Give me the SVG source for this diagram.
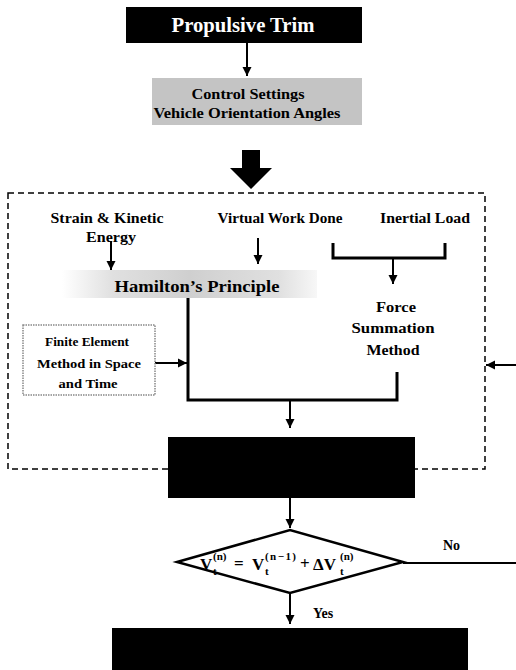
<svg xmlns="http://www.w3.org/2000/svg" width="516" height="670" viewBox="0 0 516 670">
<style>
text{font-family:"Liberation Serif","Times New Roman",serif;font-weight:bold;fill:#000}
.w{fill:#fff}
.ln{stroke:#000;stroke-width:2;fill:none}
.thick{stroke:#000;stroke-width:3;fill:none}
.sup{font-size:11px}
.eq{font-size:17px}
</style>
<defs>
<marker id="ah" viewBox="0 0 10 10" refX="10" refY="5" markerWidth="9" markerHeight="10" markerUnits="userSpaceOnUse" orient="auto">
<path d="M0,0 L10,5 L0,10 Z" fill="#000"/>
</marker>
<linearGradient id="hg" x1="0" x2="1" y1="0" y2="0">
<stop offset="0" stop-color="#d8d8d8" stop-opacity="0"/>
<stop offset="0.2" stop-color="#d8d8d8" stop-opacity="0.8"/>
<stop offset="0.5" stop-color="#cfcfcf"/>
<stop offset="0.85" stop-color="#d8d8d8" stop-opacity="0.8"/>
<stop offset="1" stop-color="#d8d8d8" stop-opacity="0.2"/>
</linearGradient>
</defs>
<rect width="516" height="670" fill="#fff"/>

<g id="boundary">
<rect x="8" y="193" width="477" height="276" fill="none" stroke="#000" stroke-width="1.5" stroke-dasharray="6 4"/>
</g>

<g id="connectors">
<line class="ln" x1="247" y1="43" x2="247" y2="76" marker-end="url(#ah)"/>
<polygon points="242,150 260,150 260,168 272,168 251,189 230,168 242,168" fill="#000"/>
<line class="ln" x1="111" y1="241" x2="111" y2="270" marker-end="url(#ah)"/>
<line class="ln" x1="258" y1="238" x2="258" y2="264" marker-end="url(#ah)"/>
<polyline class="thick" points="333,243 333,258 445,258 445,243"/>
<line class="ln" x1="393" y1="258" x2="393" y2="284" marker-end="url(#ah)"/>
<polyline class="thick" points="188,298 188,400 397,400 397,372"/>
<line class="ln" x1="155" y1="363" x2="187" y2="363" marker-end="url(#ah)"/>
<line class="ln" x1="290" y1="400" x2="290" y2="428" marker-end="url(#ah)"/>
<line class="ln" x1="516" y1="365" x2="486" y2="365" marker-end="url(#ah)"/>
<line class="ln" x1="290" y1="498" x2="290" y2="528" marker-end="url(#ah)"/>
<line class="ln" x1="403" y1="563" x2="516" y2="563"/>
<line class="ln" x1="290" y1="593" x2="290" y2="624" marker-end="url(#ah)"/>
</g>

<g id="propulsive-trim">
<rect x="126" y="7" width="236" height="36" fill="#000"/>
<text class="w" x="243" y="32" font-size="20" text-anchor="middle" textLength="143" lengthAdjust="spacingAndGlyphs">Propulsive Trim</text>
</g>

<g id="control-settings">
<rect x="152" y="78" width="210" height="47" fill="#c4c4c4"/>
<text x="248" y="99" font-size="14" text-anchor="middle" fill="#2a2a2a" textLength="113" lengthAdjust="spacingAndGlyphs">Control Settings</text>
<text x="247" y="118" font-size="14" text-anchor="middle" fill="#2a2a2a" textLength="187" lengthAdjust="spacingAndGlyphs">Vehicle Orientation Angles</text>
</g>

<g id="strain-energy">
<text x="107" y="223" font-size="14" text-anchor="middle" textLength="113" lengthAdjust="spacingAndGlyphs">Strain &amp; Kinetic</text>
<text x="111" y="242" font-size="14" text-anchor="middle" textLength="50" lengthAdjust="spacingAndGlyphs">Energy</text>
</g>

<g id="virtual-work">
<text x="280" y="223" font-size="14" text-anchor="middle" textLength="125" lengthAdjust="spacingAndGlyphs">Virtual Work Done</text>
</g>

<g id="inertial-load">
<text x="425" y="223" font-size="14" text-anchor="middle" textLength="90" lengthAdjust="spacingAndGlyphs">Inertial Load</text>
</g>

<g id="hamilton">
<rect x="62" y="270" width="255" height="28" fill="url(#hg)"/>
<text x="197" y="292" font-size="17" text-anchor="middle" textLength="165" lengthAdjust="spacingAndGlyphs">Hamilton’s Principle</text>
</g>

<g id="force-summation">
<text x="396" y="312" font-size="14" text-anchor="middle" textLength="40" lengthAdjust="spacingAndGlyphs">Force</text>
<text x="393" y="333" font-size="14" text-anchor="middle" textLength="83" lengthAdjust="spacingAndGlyphs">Summation</text>
<text x="393" y="355" font-size="14" text-anchor="middle" textLength="53" lengthAdjust="spacingAndGlyphs">Method</text>
</g>

<g id="finite-element">
<rect x="23" y="325" width="132" height="70" fill="#fff" stroke="#888" stroke-width="1.5" stroke-dasharray="1.5 1"/>
<text x="87" y="346" font-size="13" text-anchor="middle" textLength="84" lengthAdjust="spacingAndGlyphs">Finite Element</text>
<text x="89" y="368" font-size="13" text-anchor="middle" textLength="104" lengthAdjust="spacingAndGlyphs">Method in Space</text>
<text x="88" y="388" font-size="13" text-anchor="middle" textLength="59" lengthAdjust="spacingAndGlyphs">and Time</text>
</g>

<g id="solve-box">
<rect x="168" y="437" width="247" height="61" fill="#000"/>
</g>

<g id="convergence">
<polygon points="177,562 290,530 403,562 290,593" fill="#fff" stroke="#000" stroke-width="2.5"/>
<text class="eq" x="200" y="570">V</text>
<text class="sup" x="213" y="560">(n)</text>
<text class="sup" x="213" y="575">t</text>
<text class="eq" x="234" y="569">=</text>
<text class="eq" x="252" y="570">V</text>
<text class="sup" x="265" y="560" textLength="31" lengthAdjust="spacing">(n−1)</text>
<text class="sup" x="265" y="575">t</text>
<text class="eq" x="300" y="569">+</text>
<text class="eq" x="313" y="570">ΔV</text>
<text class="sup" x="340" y="560">(n)</text>
<text class="sup" x="340" y="575">t</text>
</g>

<g id="labels">
<text x="443" y="550" font-size="14">No</text>
<text x="313" y="618" font-size="14">Yes</text>
</g>

<g id="output-box">
<rect x="112" y="628" width="356" height="42" fill="#000"/>
</g>
</svg>
